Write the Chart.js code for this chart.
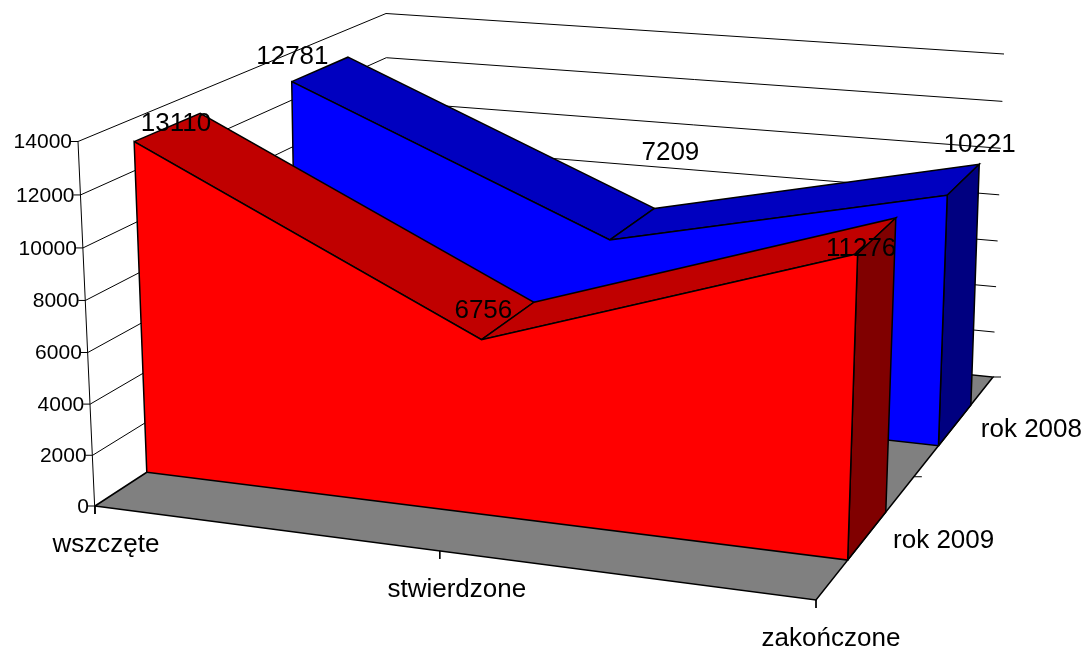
<!DOCTYPE html>
<html><head><meta charset="utf-8">
<style>html,body{margin:0;padding:0;background:#fff}canvas{display:block}</style>
<script src="https://cdn.jsdelivr.net/npm/chart.js@4"></script>
</head><body><canvas id="c" width="1086" height="650"></canvas>
<script>
// ---- data ----
const categories = ['wszczęte', 'stwierdzone', 'zakończone'];
const seriesNames = ['rok 2009', 'rok 2008'];
const rok2009 = [13110, 6756, 11276];
const rok2008 = [12781, 7209, 10221];
const valueTicks = [0, 2000, 4000, 6000, 8000, 10000, 12000, 14000];
const valueMax = 14000;

// ---- 3D box layout (screen corners of floor and ceiling: front-left, front-right, back-right, back-left) ----
const floorQuad = [[95,506],[816,600],[993,377],[388,315]];
const ceilQuad  = [[78,141.5],[828,205],[1004,54],[386,13.5]];
const depthBands = [[0.15,0.345],[0.645,0.85]];
const catPos = [0, 0.5, 1];
const ribbonCatPos = [[0, 0.5, 1], [0, 0.505, 1]];
const seriesDepth = [0.25, 0.75];
const heightPerspective = 0.97;
const labelShift = [[[8,-3],[-25,-9.5],[-16,13]], [[-28,-12],[41,-70.5],[16,-35]]];

function homography(q){
  const [[x0,y0],[x1,y1],[x2,y2],[x3,y3]] = q;
  const dx1=x1-x2, dx2=x3-x2, sx=x0-x1+x2-x3, dy1=y1-y2, dy2=y3-y2, sy=y0-y1+y2-y3;
  const det=dx1*dy2-dx2*dy1;
  const g=(sx*dy2-dx2*sy)/det, h=(dx1*sy-sx*dy1)/det;
  const a=x1-x0+g*x1, b=x3-x0+h*x3, d=y1-y0+g*y1, e=y3-y0+h*y3;
  return (u,w)=>{const k=g*u+h*w+1; return [(a*u+b*w+x0)/k,(d*u+e*w+y0)/k];};
}
const hFloor = homography(floorQuad), hCeil = homography(ceilQuad);
function project(u,w,v){
  const p=hFloor(u,w), q=hCeil(u,w), r=v/valueMax;
  const t=heightPerspective*r/(1+(heightPerspective-1)*r);
  return {x:p[0]+(q[0]-p[0])*t, y:p[1]+(q[1]-p[1])*t};
}
const shift=(p,dx,dy)=>({x:p.x+dx,y:p.y+dy});

const datasets=[];
function poly(points,fill,width){
  const closed = fill ? points.concat([points[0]]) : points;
  datasets.push({data:closed,showLine:true,tension:0,pointRadius:0,pointHoverRadius:0,
    borderColor:'#000',borderWidth:width||1.5,borderJoinStyle:'miter',
    fill:fill?'shape':false,backgroundColor:fill||'transparent'});
}
// walls: gridlines and value ticks
valueTicks.forEach(v=>{
  if(v>0) poly([project(0,0,v),project(0,1,v),project(1,1,v)],null,1);
  const a=project(0,0,v);
  poly([a,shift(a,-7,0)],null,1);
});
poly([shift(project(0,0,0),0,8),project(0,0,valueMax)],null,1);
// floor
poly([project(0,0,0),project(1,0,0),project(1,1,0),project(0,1,0)],'#808080',1.5);
// floor ticks
catPos.forEach(u=>{const a=project(u,0,0);poly([a,shift(a,0,8)],null,1);});
[0.5,1].forEach(w=>{const a=project(1,w,0);poly([a,shift(a,8,0)],null,1);});
// ribbons, back series first
function ribbon(vals,band,pos,front,top,side){
  const [w0,w1]=band;
  for(let i=0;i<2;i++){
    poly([project(pos[i],w0,vals[i]),project(pos[i],w1,vals[i]),
          project(pos[i+1],w1,vals[i+1]),project(pos[i+1],w0,vals[i+1])],top);
  }
  poly([project(1,w0,0),project(1,w0,vals[2]),project(1,w1,vals[2]),project(1,w1,0)],side);
  poly([project(0,w0,0)].concat(vals.map((v,i)=>project(pos[i],w0,v))).concat([project(1,w0,0)]),front);
}
ribbon(rok2008,depthBands[1],ribbonCatPos[1],'#0000ff','#0000c0','#000080');
ribbon(rok2009,depthBands[0],ribbonCatPos[0],'#ff0000','#c00000','#800000');
datasets.forEach((d,i)=>{d.order=datasets.length-i;});

const textPlugin={id:'texts',afterDatasetsDraw(chart){
  const {ctx,scales:{x,y}}=chart;
  const put=(t,p,dx,dy,align,size)=>{
    ctx.font=size+'px "Liberation Sans", Arial, sans-serif';
    ctx.fillStyle='#000';ctx.textAlign=align;ctx.textBaseline='middle';
    ctx.fillText(t,x.getPixelForValue(p.x)+dx,y.getPixelForValue(p.y)+dy);
  };
  ctx.save();
  valueTicks.forEach(v=>put(String(v),project(0,0,v),-6,1,'right',21));
  categories.forEach((c,i)=>put(c,project(catPos[i],0,0),[11,17,15][i],39,'center',26));
  seriesNames.forEach((s,i)=>put(s,project(1,seriesDepth[i],0),76,5.5,'center',26));
  [rok2009,rok2008].forEach((vals,s)=>vals.forEach((v,i)=>{
    const b=depthBands[s];
    put(String(v),project(catPos[i],(b[0]+b[1])/2,v),labelShift[s][i][0],labelShift[s][i][1],'center',26);
  }));
  ctx.restore();
}};

new Chart(document.getElementById('c'),{
  type:'scatter',
  data:{datasets},
  options:{responsive:false,animation:false,events:[],
    layout:{padding:0},
    plugins:{legend:{display:false},tooltip:{enabled:false},title:{display:false}},
    scales:{
      x:{type:'linear',min:0,max:1086,display:false},
      y:{type:'linear',min:0,max:650,reverse:true,display:false}
    }},
  plugins:[textPlugin]
});
</script></body></html>
